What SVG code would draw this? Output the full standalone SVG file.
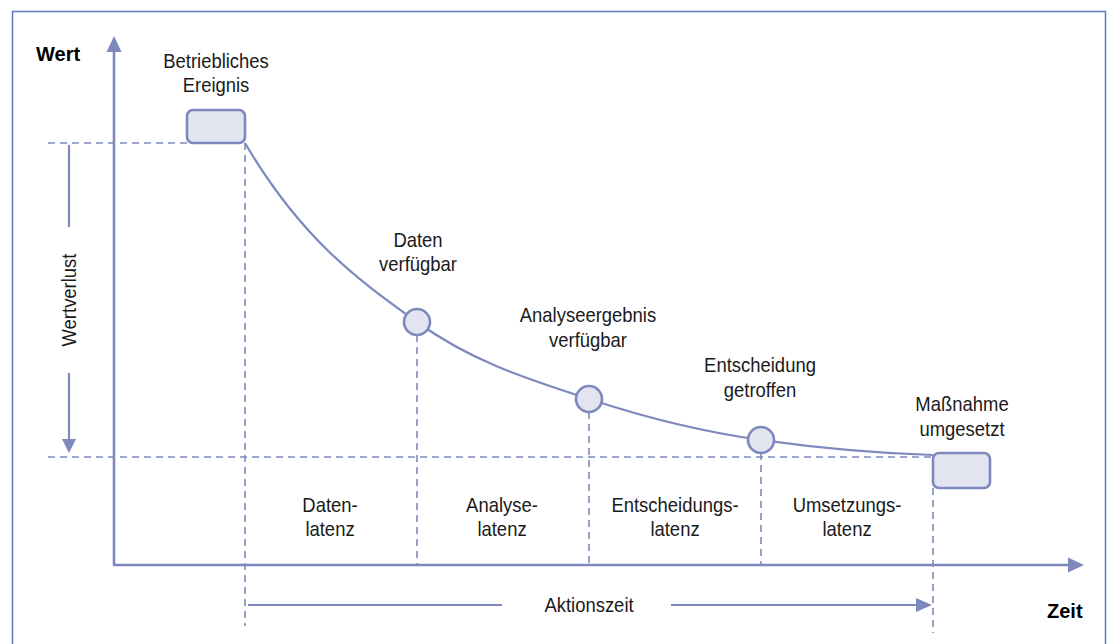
<svg xmlns="http://www.w3.org/2000/svg" width="1111" height="644" viewBox="0 0 1111 644">
<defs>
<style>
.lbl{font-family:"Liberation Sans",Arial,sans-serif;font-size:20.5px;fill:#1a1a1a;text-anchor:middle}
.bold{font-family:"Liberation Sans",Arial,sans-serif;font-size:20px;font-weight:bold;fill:#000}
.dash{stroke:#7d89bd;stroke-width:1.6;stroke-dasharray:7 5;fill:none}
.ax{stroke:#7d89bd;stroke-width:2.6;fill:none}
.ln{stroke:#7d89bd;stroke-width:2.2;fill:none}
.shape{fill:#e2e5ef;stroke:#7d89bd;stroke-width:2.6}
.head{fill:#7d89bd}
</style>
</defs>
<rect width="1111" height="644" fill="#fff"/>
<path d="M12.5 650 V11.5 H1105.5 V650" fill="none" stroke="#5a7cbf" stroke-width="1.5"/>

<g id="connectors">
  <!-- axes -->
  <line class="ax" x1="114" y1="50" x2="114" y2="565"/>
  <polygon class="head" points="114,36 106.5,52 121.5,52"/>
  <line class="ax" x1="113" y1="565" x2="1070" y2="565"/>
  <polygon class="head" points="1084,565 1068,557.5 1068,572.5"/>
  <!-- dashed guides -->
  <line class="dash" x1="48" y1="143" x2="187" y2="143"/>
  <line class="dash" x1="48" y1="457" x2="933" y2="457"/>
  <line class="dash" x1="245" y1="143" x2="245" y2="626"/>
  <line class="dash" x1="417" y1="335" x2="417" y2="565"/>
  <line class="dash" x1="589" y1="412" x2="589" y2="565"/>
  <line class="dash" x1="761" y1="453" x2="761" y2="565"/>
  <line class="dash" x1="933" y1="488" x2="933" y2="633"/>
  <!-- curve -->
  <path class="ln" d="M245 143 C302.3 240.5 359.7 280.7 417 322 C474.3 363.3 531.7 380.1 589 399 C646.3 417.9 703.7 432 761 440 C818.3 448 875.7 453.3 933 455"/>
  <!-- Wertverlust arrow -->
  <line class="ln" x1="69" y1="145" x2="69" y2="227"/>
  <line class="ln" x1="69" y1="373" x2="69" y2="441"/>
  <polygon class="head" points="69,453 62,439 76,439"/>
  <!-- Aktionszeit arrow -->
  <line class="ln" x1="248" y1="605" x2="502" y2="605"/>
  <line class="ln" x1="671" y1="605" x2="918" y2="605"/>
  <polygon class="head" points="932,605 916,598 916,612"/>
</g>

<g id="axis-labels">
  <text class="bold" x="36" y="61">Wert</text>
  <text class="bold" x="1047" y="618">Zeit</text>
  <text class="lbl" transform="translate(76,300) rotate(-90) scale(0.9,1)">Wertverlust</text>
  <text class="lbl" transform="translate(589,612) scale(0.9,1)">Aktionszeit</text>
</g>

<g id="node-ereignis">
  <rect class="shape" x="187" y="110" width="58" height="33" rx="6"/>
  <text class="lbl" transform="translate(216,68) scale(0.9,1)"><tspan x="0" y="0">Betriebliches</tspan><tspan x="0" y="24">Ereignis</tspan></text>
</g>
<g id="node-daten">
  <circle class="shape" cx="417" cy="322" r="13"/>
  <text class="lbl" transform="translate(418,247) scale(0.9,1)"><tspan x="0" y="0">Daten</tspan><tspan x="0" y="24.5">verfügbar</tspan></text>
</g>
<g id="node-analyse">
  <circle class="shape" cx="589" cy="399" r="13"/>
  <text class="lbl" transform="translate(588,322) scale(0.9,1)"><tspan x="0" y="0">Analyseergebnis</tspan><tspan x="0" y="25">verfügbar</tspan></text>
</g>
<g id="node-entscheidung">
  <circle class="shape" cx="761" cy="440" r="13"/>
  <text class="lbl" transform="translate(760,372) scale(0.9,1)"><tspan x="0" y="0">Entscheidung</tspan><tspan x="0" y="25">getroffen</tspan></text>
</g>
<g id="node-massnahme">
  <rect class="shape" x="933" y="453" width="57" height="35" rx="6"/>
  <text class="lbl" transform="translate(962,411) scale(0.9,1)"><tspan x="0" y="0">Maßnahme</tspan><tspan x="0" y="25">umgesetzt</tspan></text>
</g>

<g id="latency-labels">
  <text class="lbl" transform="translate(330,512) scale(0.9,1)"><tspan x="0" y="0">Daten-</tspan><tspan x="0" y="24">latenz</tspan></text>
  <text class="lbl" transform="translate(502,512) scale(0.9,1)"><tspan x="0" y="0">Analyse-</tspan><tspan x="0" y="24">latenz</tspan></text>
  <text class="lbl" transform="translate(675,512) scale(0.9,1)"><tspan x="0" y="0">Entscheidungs-</tspan><tspan x="0" y="24">latenz</tspan></text>
  <text class="lbl" transform="translate(847,512) scale(0.9,1)"><tspan x="0" y="0">Umsetzungs-</tspan><tspan x="0" y="24">latenz</tspan></text>
</g>
</svg>
